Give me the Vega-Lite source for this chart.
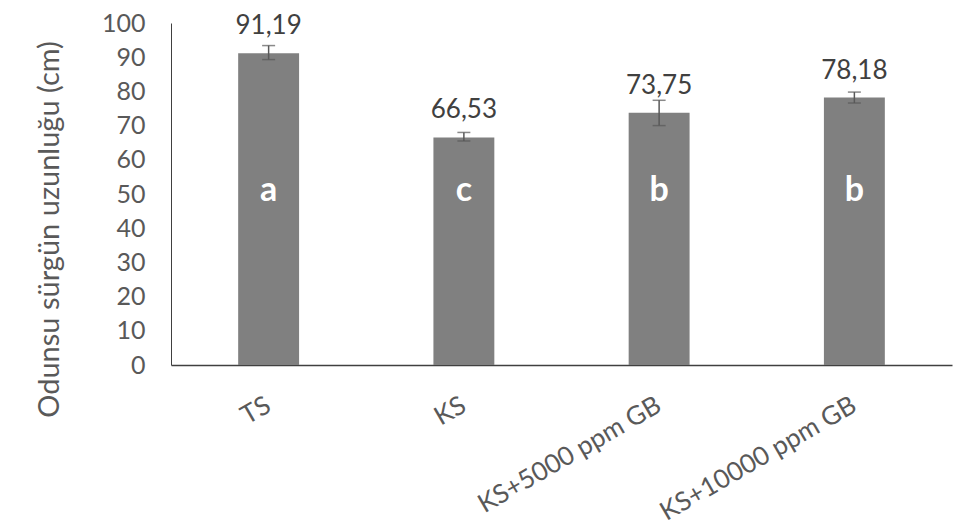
{
  "$schema": "https://vega.github.io/schema/vega-lite/v6.json",
  "width": 781,
  "height": 342,
  "autosize": {"type": "none"},
  "padding": {"left": 171, "top": 23, "right": 23, "bottom": 165},
  "background": "white",
  "config": {
    "view": {"stroke": null},
    "font": "Lato",
    "axisY": {
      "labelOverlap": false,
      "tickCount": 11,
      "ticks": false,
      "grid": false,
      "domainColor": "#404040",
      "domainWidth": 1,
      "labelFontSize": 25,
      "labelColor": "#595959",
      "labelPadding": 26,
      "titleFontSize": 29,
      "titleColor": "#595959",
      "titleFontWeight": "normal",
      "titleX": -122,
      "titleY": 206,
      "titleAngle": -90,
      "titleAlign": "center",
      "titleBaseline": "middle"
    }
  },
  "data": {
    "values": [
      {"cat": "TS", "value": 91.19, "lo": 89.3, "hi": 93.4, "label": "91,19", "letter": "a"},
      {"cat": "KS", "value": 66.53, "lo": 65.5, "hi": 68.0, "label": "66,53", "letter": "c"},
      {"cat": "KS+5000 ppm GB", "value": 73.75, "lo": 70.0, "hi": 77.4, "label": "73,75", "letter": "b"},
      {"cat": "KS+10000 ppm GB", "value": 78.18, "lo": 76.6, "hi": 79.8, "label": "78,18", "letter": "b"}
    ]
  },
  "encoding": {
    "x": {
      "field": "cat",
      "type": "nominal",
      "sort": null,
      "scale": {"paddingInner": 0.688, "paddingOuter": 0.344},
      "axis": {
        "title": null,
        "ticks": false,
        "domainColor": "#404040",
        "domainWidth": 1.5,
        "labelAngle": -30,
        "labelAlign": "right",
        "labelBaseline": "middle",
        "labelPadding": 38,
        "labelFontSize": 26,
        "labelColor": "#595959",
        "labelLimit": 400,
        "labelOverlap": false,
        "labelBound": false
      }
    }
  },
  "layer": [
    {
      "mark": {"type": "bar", "color": "#808080"},
      "encoding": {
        "y": {
          "field": "value",
          "type": "quantitative",
          "scale": {"domain": [0, 100], "nice": false},
          "axis": {"title": "Odunsu sürgün uzunluğu (cm)", "values": [0, 10, 20, 30, 40, 50, 60, 70, 80, 90, 100], "labelOverlap": false}
        }
      }
    },
    {
      "mark": {"type": "rule", "color": "#595959", "strokeWidth": 1.5},
      "encoding": {
        "y": {"field": "lo", "type": "quantitative", "axis": {"title": "Odunsu sürgün uzunluğu (cm)", "values": [0, 10, 20, 30, 40, 50, 60, 70, 80, 90, 100], "labelOverlap": false}},
        "y2": {"field": "hi"}
      }
    },
    {
      "mark": {"type": "tick", "color": "#595959", "size": 13, "thickness": 1.5},
      "encoding": {"y": {"field": "lo", "type": "quantitative", "axis": {"title": "Odunsu sürgün uzunluğu (cm)", "values": [0, 10, 20, 30, 40, 50, 60, 70, 80, 90, 100], "labelOverlap": false}}}
    },
    {
      "mark": {"type": "tick", "color": "#595959", "size": 13, "thickness": 1.5},
      "encoding": {"y": {"field": "hi", "type": "quantitative", "axis": {"title": "Odunsu sürgün uzunluğu (cm)", "values": [0, 10, 20, 30, 40, 50, 60, 70, 80, 90, 100], "labelOverlap": false}}}
    },
    {
      "mark": {"type": "text", "fontSize": 26, "color": "#404040", "dy": -27, "baseline": "middle"},
      "encoding": {
        "y": {"field": "value", "type": "quantitative", "axis": {"title": "Odunsu sürgün uzunluğu (cm)", "values": [0, 10, 20, 30, 40, 50, 60, 70, 80, 90, 100], "labelOverlap": false}},
        "text": {"field": "label"}
      }
    },
    {
      "mark": {"type": "text", "fontSize": 34, "fontWeight": "bold", "color": "white", "baseline": "middle"},
      "encoding": {
        "y": {"datum": 51, "type": "quantitative", "axis": {"title": "Odunsu sürgün uzunluğu (cm)", "values": [0, 10, 20, 30, 40, 50, 60, 70, 80, 90, 100], "labelOverlap": false}},
        "text": {"field": "letter"}
      }
    }
  ]
}
